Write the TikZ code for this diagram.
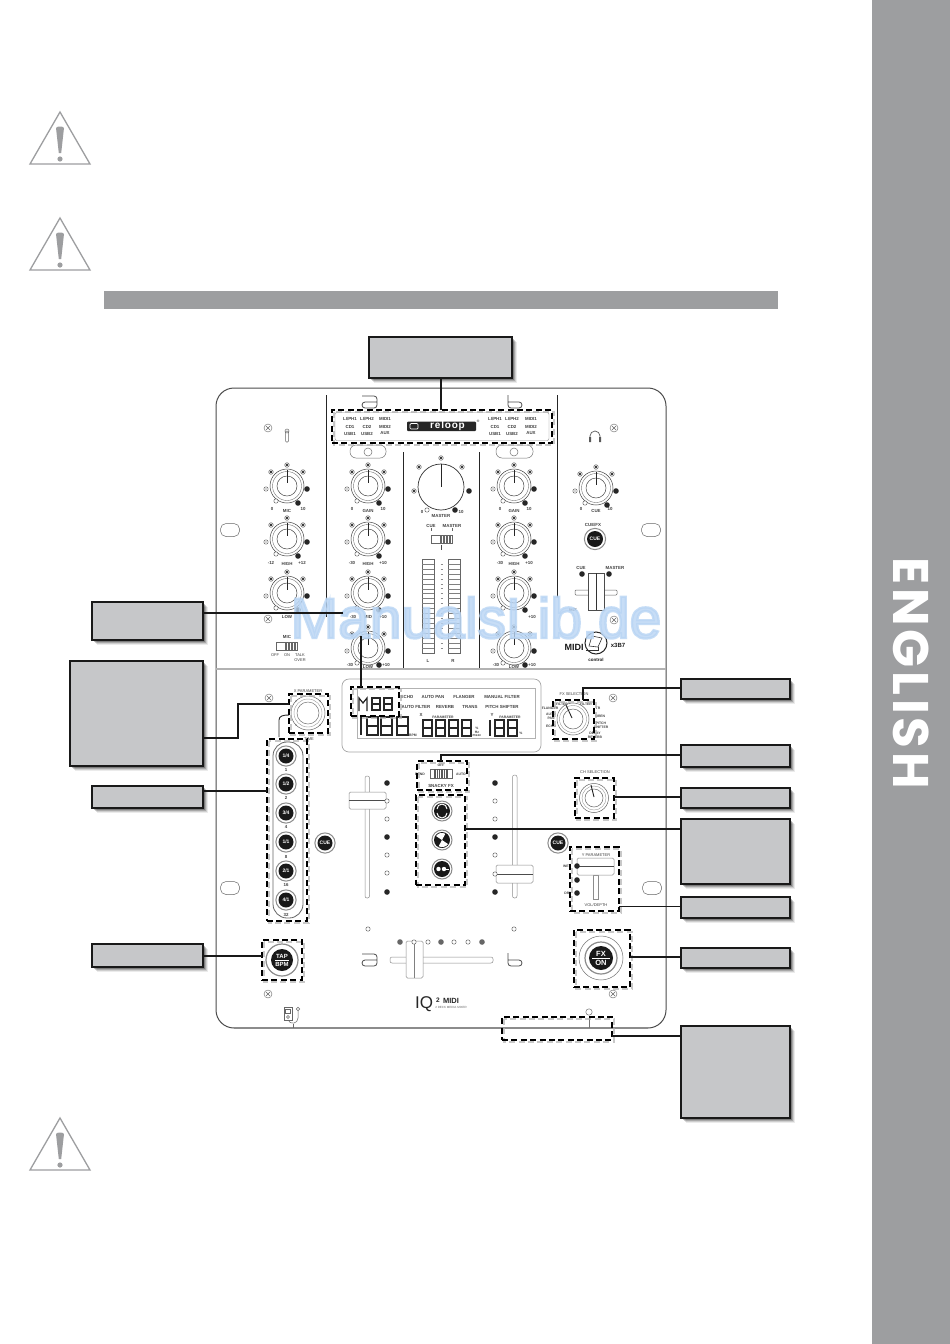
\documentclass[tikz,border=0pt]{standalone}
\usepackage{fontspec}
\setmainfont{Liberation Sans}
\newfontfamily\engfont[LetterSpace=7.6]{Poppins}
\newfontfamily\wmfont[FakeBold=4]{Liberation Sans}
\newfontfamily\logofont[LetterSpace=8]{Liberation Sans}
\definecolor{barg}{HTML}{9D9EA0}
\definecolor{boxg}{HTML}{C6C7C9}
\definecolor{wmark}{HTML}{B9D5F4}
\newcounter{tc}
\newcommand\tx[4][]{\stepcounter{tc}\node[lab,#1] (t\arabic{tc}) at (#2,#3) {#4};}
% callout box with soft shadow
\newcommand\cbox[5]{%
  \foreach \s/\o in {5/.08,4/.12,3/.18,2/.25}{\fill[black,opacity=\o] (#2+\s,#3+\s) rectangle (#4+\s,#5+\s);}
  \pgfmathsetmacro\cx{(#2+#4)/2}\pgfmathsetmacro\cy{(#3+#5)/2}
  \pgfmathsetmacro\cw{#4-#2}\pgfmathsetmacro\ch{#5-#3}
  \node[callout,minimum width=\cw pt,minimum height=\ch pt] (#1) at (\cx,\cy) {};}
% dashed frame with soft shadow
\newcommand\dbox[5]{%
  \draw[dashshadow] (#2+2,#3+2) rectangle (#4+2,#5+2);
  \pgfmathsetmacro\cx{(#2+#4)/2}\pgfmathsetmacro\cy{(#3+#5)/2}
  \pgfmathsetmacro\cw{#4-#2}\pgfmathsetmacro\ch{#5-#3}
  \node[dashbox,minimum width=\cw pt,minimum height=\ch pt] (#1) at (\cx,\cy) {};}
\newcommand\ledd[2]{\fill[white] (#1,#2) circle (2.3);\draw[ring] (#1,#2) circle (2.3);\fill[black!85] (#1,#2) circle (1.3);}
\newcommand\ledo[2]{\draw[ring,fill=white] (#1,#2) circle (2.2);}
\newcommand\ledp[2]{\draw[ring,fill=white] (#1,#2) circle (2.2);\fill[black!70] (#1,#2) circle (.6);}
\newcommand\ledf[2]{\fill[black!85] (#1,#2) circle (2.8);}
\newcommand\knob[2]{\begin{scope}[shift={(#1,#2)}]
  \draw[black!75,line width=.5] (0,0) circle (17);
  \draw[black!55,line width=.4] (0,0) circle (14.5);
  \draw[black!70,line width=.5] (0,0) circle (10);
  \draw[black!85,line width=.9] (0,-16) -- (0,-3);
  \ledd{0}{-21}\ledd{-16}{-14}\ledd{16}{-14}\ledp{-21}{3}\ledo{-11}{15}\ledf{20}{3}\ledf{11}{17}
\end{scope}}
\newcommand\btn[4]{\begin{scope}[shift={(#1,#2)}]
  \draw[black!45,line width=1,fill=white] (0,0) circle (#3+2.6);
  \fill[black!90] (0,0) circle (#3);
  \end{scope}
  \tx[btntxt]{#1}{#2}{#4}}
\newcommand\screw[2]{\begin{scope}[shift={(#1,#2)}]
  \draw[black!60,line width=.4] (0,0) circle (4);
  \draw[black!60,line width=.4] (-2,-2) -- (2,2) (-2,2) -- (2,-2);
\end{scope}}
\newcommand\hole[2]{\draw[black!60,line width=.5,rounded corners=5.5] (#1-9.5,#2-6.5) rectangle (#1+9.5,#2+6.5);}
\newcommand\warn[2]{\begin{scope}[shift={(#1,#2)}]
  \draw[barg,line width=1.3,line join=miter] (0,0) -- (-30,52) -- (30,52) -- cycle;
  \fill[barg] (-4,16) .. controls (-4,14) and (4,14) .. (4,16) -- (1.2,41) -- (-1.2,41) -- cycle;
  \fill[barg] (0,47) circle (2.6);
\end{scope}}
\newcommand\alogo[2]{\begin{scope}[shift={(#1,#2)}]
  \draw[black!70,line width=.8,rounded corners=3] (1,1) -- (16,1) -- (16,13) -- (1,13) -- (1,7) -- (16,7);
\end{scope}}
\newcommand\blogo[2]{\begin{scope}[shift={(#1,#2)}]
  \draw[black!70,line width=.8,rounded corners=3] (1,0) -- (1,13) -- (15,13) -- (15,7) -- (1,7);
\end{scope}}
\newcommand\segd[4]{\draw[seg] (#1,#2) rectangle (#1+#3,#2+#4) (#1,#2+#4/2) -- (#1+#3,#2+#4/2);}
\newcommand\segone[3]{\draw[seg] (#1,#2) -- (#1,#2+#3);}
\begin{document}
\begin{tikzpicture}[x=1pt,y=-1pt,
  lab/.style={font=\fontsize{4.4}{5}\selectfont\bfseries,inner sep=0pt,text=black!75,align=center},
  tiny/.style={font=\fontsize{3.4}{4}\selectfont\bfseries},
  btntxt/.style={font=\fontsize{5}{5}\selectfont\bfseries,text=white},
  callout/.style={draw=black!90,fill=boxg,line width=2pt,inner sep=0pt,outer sep=0pt},
  dashbox/.style={draw=black,line width=2pt,dash pattern=on 6pt off 3.4pt,inner sep=0pt,outer sep=0pt},
  dashshadow/.style={draw=black!30,line width=2.6pt,dash pattern=on 6pt off 3.4pt,opacity=.7},
  conn/.style={draw=black!90,line width=2pt},
  ring/.style={draw=black!65,line width=.45pt},
  seg/.style={draw=black!85,line width=1.5pt},
  thinl/.style={draw=black!45,line width=.5pt},
  darkl/.style={draw=black!85,line width=.9pt}]
\useasboundingbox (0,0) rectangle (950,1344);
\fill[white] (0,0) rectangle (950,1344);
% page furniture
\fill[barg] (872,0) rectangle (950,1344);
\fill[barg] (104,291) rectangle (778,309);
\node[rotate=-90,text=white,font=\fontsize{50}{50}\selectfont\engfont\bfseries,inner sep=0pt] (english) at (911,673) {ENGLISH};
\warn{60}{112}\warn{60}{218}\warn{60}{1118}
% mixer body
\draw[black!70,line width=1pt,rounded corners=18] (216,388) rectangle (666,1028);
\draw[black!45,line width=1.6pt] (234,1028) -- (648,1028);
\draw[black!30,line width=1.2pt] (216,669) -- (666,669);
\draw[darkl] (326,395) -- (326,617);
\draw[darkl] (557,395) -- (557,598);
\draw[darkl] (403,452) -- (403,668);
\draw[darkl] (479,452) -- (479,668);
% a / b top, inputs
\alogo{361}{395}\blogo{507}{395}
\draw[black!55,line width=.5,rounded corners=6] (350,445) rectangle (386,458);
\draw[black!55,line width=.5] (368,452) circle (4);
\draw[black!55,line width=.5,rounded corners=6] (496,445) rectangle (533,458);
\draw[black!55,line width=.5] (514,452) circle (4);
\draw[black!45,line width=.4,rounded corners=2] (335,412.5) rectangle (549,440.5);
\tx{350}{419}{LI/PH1}\tx{367}{419}{LI/PH2}\tx{385}{419}{MIDI1}
\tx{350}{426.5}{CD1}\tx{367}{426.5}{CD2}\tx{385}{426.5}{MIDI2}
\tx{350}{433.5}{USB1}\tx{367}{433.5}{USB2}\tx{385}{433.5}{AUX}
\tx{495}{419}{LI/PH1}\tx{512}{419}{LI/PH2}\tx{531}{419}{MIDI1}
\tx{495}{426.5}{CD1}\tx{512}{426.5}{CD2}\tx{531}{426.5}{MIDI2}
\tx{495}{433.5}{USB1}\tx{512}{433.5}{USB2}\tx{531}{433.5}{AUX}
\fill[black!85,rounded corners=1] (407,421.5) rectangle (476,431);
\draw[white,line width=.7,rounded corners=1] (410,423.5) rectangle (418,429);
\tx[font=\fontsize{10}{10}\selectfont\logofont\bfseries,text=white]{447.5}{426.2}{reloop}
\tx[tiny]{478}{421}{®}
% screws, holes, icons
\screw{268}{428}\screw{614}{428}\screw{268}{619}\screw{614}{620}
\screw{269}{698}\screw{613}{698}\screw{613}{994}\screw{268}{994}
\hole{230}{530}\hole{651}{530}\hole{230}{888}\hole{652}{888}
\draw[black!60,line width=.5,rounded corners=1] (285.5,431) rectangle (288.5,442);
\draw[black!60,line width=.5] (287,431) circle (2);
\draw[black!65,line width=.7] (590,441) -- (590,436) arc[start angle=180,end angle=360,radius=5] -- (600,441);
\fill[black!65] (589,437) rectangle (591,442) (599,437) rectangle (601,442);
% knobs
\knob{287}{486}\knob{287}{539}\knob{287}{593}
\knob{368}{486}\knob{368}{539}\knob{368}{593}\knob{368}{648}
\knob{514}{486}\knob{514}{539}\knob{514}{593}\knob{514}{648}
\knob{596}{488}
\tx{272}{509}{0}\tx{287}{511}{MIC}\tx{303}{509}{10}
\tx{271}{563}{-12}\tx{287}{564}{HIGH}\tx{302}{563}{+12}
\tx{287}{617}{LOW}
\tx{352}{509}{0}\tx{368}{511}{GAIN}\tx{383}{509}{10}
\tx{352}{563}{-30}\tx{368}{564}{HIGH}\tx{383}{563}{+10}
\tx{353}{617}{-30}\tx{368}{617}{MID}\tx{383}{617}{+10}
\tx{350}{665}{-30}\tx{368}{667}{LOW}\tx{386}{665}{+10}
\tx{500}{509}{0}\tx{514}{511}{GAIN}\tx{529}{509}{10}
\tx{500}{563}{-30}\tx{514}{564}{HIGH}\tx{529}{563}{+10}
\tx{532}{617}{+10}
\tx{496}{665}{-30}\tx{514}{667}{LOW}\tx{532}{665}{+10}
\tx{581}{509}{0}\tx{596}{511}{CUE}\tx{610}{509}{10}
% master
\draw[black!80,line width=.7] (441,487) circle (23);
\draw[black!85,line width=.9] (441,464) -- (441,487);
\ledd{441}{458}\ledd{462}{467}\ledd{419}{467}\ledd{414}{491}\ledf{469}{491}\ledf{455}{510}\ledo{427}{510}
\tx{422}{512}{0}\tx{461}{512}{10}\tx{441}{516}{MASTER}
\tx{431}{526}{CUE}\tx{452}{526}{MASTER}
\draw[black!60,line width=.4] (431,528) -- (431,531) (452,528) -- (452,531);
\draw[black!60,line width=.6,fill=white] (431,535) rectangle (452,543);
\foreach \i in {0,...,7}{\draw[black!60,line width=.5] (440+\i*1.5,535) -- (440+\i*1.5,543);}
\draw[black!70,line width=.6] (441,545) -- (441,550);
% VU meters
\draw[black!60,line width=.5] (422,559) rectangle (434,653);
\draw[black!60,line width=.5] (448,559) rectangle (460,653);
\foreach \i in {1,...,18}{
  \draw[black!50,line width=.4] (422,559+\i*4.95) -- (434,559+\i*4.95);
  \draw[black!50,line width=.4] (448,559+\i*4.95) -- (460,559+\i*4.95);
  \draw[black!45,line width=.5] (440.5,559+\i*4.95) -- (442.5,559+\i*4.95);}
\tx{428}{661}{L}\tx{453}{661}{R}
% mic switch
\tx{287}{637}{MIC}
\draw[black!60,line width=.6,fill=white] (276,642) rectangle (297,650);
\foreach \i in {0,...,7}{\draw[black!60,line width=.5] (285+\i*1.5,642) -- (285+\i*1.5,650);}
\tx[font=\fontsize{4}{5}\selectfont]{275}{655}{OFF}\tx[font=\fontsize{4}{5}\selectfont]{287}{655}{ON}\tx[font=\fontsize{4}{5}\selectfont]{300}{657.5}{TALK\\OVER}
% cue fx
\tx{593}{525}{CUE/FX}
\btn{595}{539}{8}{CUE}
\tx{581}{568}{CUE}\tx{615}{568}{MASTER}
\ledf{582}{574}\ledf{609}{574}
\draw[black!60,line width=.5,rounded corners=1] (575,590) rectangle (617,595);
\draw[black!70,line width=.5,fill=white] (588,573) rectangle (604,610);
\draw[black!80,line width=.7] (596,573) -- (596,610);
\tx{573}{610}{MIX}
% midi logo
\tx[font=\fontsize{9}{9}\selectfont\bfseries,text=black!90]{574}{647}{MIDI}
\draw[black!85,line width=1] (596,643) circle (11);
\draw[black!80,line width=.6,fill=white] (592,636) -- (602,638) -- (598,647) -- (589,646) -- cycle;
\draw[black!80,line width=.6] (586,650) -- (598,650) -- (598,647);
\tx[font=\fontsize{6}{6}\selectfont\bfseries,text=black!90]{618}{645.5}{x3B7}
\tx[font=\fontsize{4.5}{5}\selectfont\bfseries,text=black!90]{596}{660}{control}
% display
\draw[black!35,line width=.7,rounded corners=7] (342,679) rectangle (541,752);
\draw[black!30,line width=.4] (357,688) rectangle (535,738);
\tx{407}{697}{ECHO}\tx{433}{697}{AUTO PAN}\tx{464}{697}{FLANGER}\tx{502}{697}{MANUAL FILTER}
\tx{416}{707}{AUTO FILTER}\tx{445}{707}{REVERB}\tx{470}{707}{TRANS}\tx{502}{707}{PITCH SHIFTER}
\draw[seg,line width=1.2pt] (359,711) -- (359,698) -- (363,703) -- (367,698) -- (367,711);
\segd{372}{698}{8}{12}\segd{384}{698}{8}{12}
\segone{361}{717}{18}\segd{367}{717}{11}{18}\segd{381}{717}{11}{18}\segd{397}{717}{11}{18}
\tx[tiny]{413}{735}{BPM}
\segd{423}{720}{9}{16}\segd{436}{720}{9}{16}\segd{449}{720}{9}{16}\segd{462}{720}{9}{16}
\tx{421}{715}{X}\tx[tiny]{443}{717}{PARAMETER}
\tx{492}{715}{Y}\tx[tiny]{510}{717}{PARAMETER}
\tx[tiny]{477}{728}{\%}\tx[tiny]{477}{732}{Hz}\tx[tiny]{477}{736}{msec}
\segone{490}{720}{16}\segd{495}{720}{9}{16}\segd{508}{720}{9}{16}
\tx[tiny]{521}{733}{\%}
% X parameter
\tx[font=\fontsize{4}{5}\selectfont]{308}{691}{X PARAMETER}
\draw[black!60,line width=.5] (308,713) circle (17);
\draw[black!40,line width=.4] (308,713) circle (14);
\draw[black!55,line width=.5] (308,713) circle (11);
\fill[black!70] (296,701) circle (.7) (320,701) circle (.7) (296,725) circle (.7) (320,725) circle (.7);
\tx[font=\fontsize{4}{5}\selectfont]{309}{739}{TIME}
% time column
\draw[black!60,line width=.8,rounded corners=14] (273,742) rectangle (303,918);
\draw[darkl] (279,737) -- (279,720) .. controls (279,716) and (283,715) .. (289,715);
\btn{286}{756}{7.5}{1/4}\btn{286}{784}{7.5}{1/2}\btn{286}{813}{7.5}{3/4}
\btn{286}{842}{7.5}{1/1}\btn{286}{871}{7.5}{2/1}\btn{286}{900}{7.5}{4/1}
\tx{286}{770}{1}\tx{286}{798}{2}\tx{286}{827}{4}\tx{286}{857}{8}\tx{286}{885}{16}\tx{286}{915}{32}
\btn{325}{843}{7.5}{CUE}\btn{558}{843}{7.5}{CUE}
% channel faders
\draw[black!45,line width=.5,rounded corners=2] (365,776) rectangle (369.5,898);
\draw[black!45,line width=.5,fill=white,rounded corners=1.5] (349,792) rectangle (386,809);
\draw[black!70,line width=.8] (349,800.5) -- (386,800.5);
\foreach \y in {783,837,892}{\ledf{387}{\y}}
\foreach \y in {801,819,855,873}{\ledo{387}{\y}}
\draw[black!45,line width=.5,rounded corners=2] (512.5,775) rectangle (517,898);
\draw[black!45,line width=.5,fill=white,rounded corners=1.5] (496,865) rectangle (533,883);
\draw[black!70,line width=.8] (496,874) -- (533,874);
\foreach \y in {783,837,892}{\ledf{495}{\y}}
\foreach \y in {801,819,855,874}{\ledo{495}{\y}}
% fx switch
\tx[tiny]{441}{765}{OFF}\tx[tiny]{420}{774}{BEND}\tx[tiny]{461}{774}{AUTO}
\draw[black!60,line width=.6,fill=white] (430,769) rectangle (452,778);
\foreach \i in {0,...,8}{\draw[black!65,line width=.6] (434+\i*1.7,769) -- (434+\i*1.7,778);}
\tx{441}{786}{SNACKY FX}
% snacky buttons
\foreach \y in {811,840,869}{\draw[black!45,line width=1,fill=white] (442,\y) circle (10);\fill[black!90] (442,\y) circle (8);}
\draw[white,line width=1] (437,809) arc[start angle=180,end angle=360,radius=5];
\draw[white,line width=1] (447,813) arc[start angle=0,end angle=180,radius=5];
\fill[white] (442,840) -- (436,836) arc[start angle=214,end angle=300,radius=7] -- cycle;
\fill[white] (442,840) -- (448,844) arc[start angle=34,end angle=120,radius=7] -- cycle;
\fill[white] (438.5,869) circle (2.2) (444,869) circle (2.2);
\draw[white,line width=.8] (444,869) -- (449,869);
% fx selection
\tx[font=\fontsize{4}{5}\selectfont]{574}{694}{FX SELECTION}
\draw[black!60,line width=.5] (573,719) circle (16);
\draw[black!40,line width=.4] (573,719) circle (13.5);
\draw[black!60,line width=.5] (573,719) circle (10);
\draw[black!85,line width=.9] (566,705) -- (572,718);
\tx[tiny]{562}{704}{FILTER}\tx[tiny]{586}{704}{FILTER}
\tx[tiny]{550}{708}{FLANGER}\tx[tiny]{551}{716}{AUTO\\PAN}\tx[tiny]{551}{726}{ECHO}
\tx[tiny]{598}{708}{TR}\tx[tiny]{600}{716}{SIREN}\tx[tiny]{601}{725}{PITCH\\SHIFTER}\tx[tiny]{595}{735.5}{DELAY\\REVERB}
% ch selection
\tx[font=\fontsize{4}{5}\selectfont]{595}{772}{CH SELECTION}
\draw[black!60,line width=.5] (594,798) circle (14.5);
\draw[black!40,line width=.4] (594,798) circle (12);
\draw[black!60,line width=.5] (594,798) circle (9);
\draw[black!85,line width=.9] (591,785) -- (594,797);
% y parameter
\tx[font=\fontsize{4}{5}\selectfont]{596}{855}{Y PARAMETER}
\draw[black!45,line width=.5] (593.5,875) rectangle (598.5,899);
\draw[black!45,line width=.5,fill=white,rounded corners=1.5] (577,858) rectangle (614,875);
\draw[black!70,line width=.8] (577,866) -- (614,866);
\ledf{577}{866}\ledf{577}{880}\ledf{577}{893}
\tx[tiny]{567}{866}{WET}\tx[tiny]{568}{893}{DRY}
\tx[font=\fontsize{4}{5}\selectfont]{596}{905}{VOL/DEPTH}
% fx on
\draw[black!55,line width=.5] (601,958) circle (22);
\draw[black!45,line width=1.2] (601,958) circle (16);
\fill[black!90] (601,958) circle (12);
\draw[white,line width=.5] (592,958) -- (610,958);
\tx[font=\fontsize{7.5}{8}\selectfont\bfseries,text=white]{601}{953.5}{FX}
\tx[font=\fontsize{7.5}{8}\selectfont\bfseries,text=white]{601}{962.5}{ON}
% tap bpm
\draw[black!45,line width=1.2] (282,960) circle (16);
\fill[black!90] (282,960) circle (11);
\draw[white,line width=.5] (275,960) -- (289,960);
\tx[font=\fontsize{6}{6}\selectfont\bfseries,text=white]{282}{956.5}{TAP}
\tx[font=\fontsize{6}{6}\selectfont\bfseries,text=white]{282}{964}{BPM}
% crossfader
\ledo{368}{929}\ledo{514}{929}
\draw[black!45,line width=.5,rounded corners=2] (390,957) rectangle (493,963);
\foreach \x in {400,441,482}{\fill[black!60] (\x,942) circle (2.8);}
\foreach \x in {428,454,468}{\ledo{\x}{942}}
\draw[black!45,line width=.5,fill=white,rounded corners=1.5] (406,941) rectangle (423,978);
\draw[black!50,line width=.7] (414.5,941) -- (414.5,978);
\ledo{414}{942}
\alogo{361}{953}\blogo{507}{953}
% IQ2 MIDI logo
\tx[font=\fontsize{17}{17}\selectfont,text=black!85]{424}{1004.5}{IQ}
\tx[font=\fontsize{6.5}{7}\selectfont\bfseries,text=black!85]{438}{1000.5}{2}
\tx[font=\fontsize{7.5}{7}\selectfont\bfseries,text=black!85]{451}{1000.5}{MIDI}
\tx[font=\fontsize{3}{4}\selectfont,text=black!60]{451}{1007}{2 DECK MEDIA MIXER}
% ipod & plugs
\draw[black!60,line width=.5] (284,1007) rectangle (292,1020);
\draw[black!60,line width=.4] (285.5,1009) rectangle (290.5,1013);
\draw[black!60,line width=.4] (288,1017) circle (1.5);
\draw[black!60,line width=.5] (298,1009) circle (1.8);
\draw[black!60,line width=.5] (298,1011) -- (298,1018) .. controls (298,1024) and (290,1025) .. (288,1020);
\draw[black!60,line width=.5] (293,1024) -- (293,1028);
\draw[black!55,line width=.5] (589,1012) circle (3.2);
\draw[black!55,line width=.5] (589,1015.5) -- (589,1028);
% watermark
\node[text=wmark,opacity=.8,font=\fontsize{57}{57}\selectfont\wmfont,anchor=base,inner sep=0pt] (wm) at (476,638) {ManualsLib.de};
% dashed frames
\dbox{fsrc}{332}{410}{552}{443}
\dbox{fm}{351}{687}{399}{716}
\dbox{fx}{289}{694}{328}{733}
\dbox{ftime}{267}{739}{307}{921}
\dbox{fsw}{417}{761}{467}{790}
\dbox{fbtn}{416}{795}{465}{885}
\dbox{fsel}{553}{700}{594}{739}
\dbox{fch}{575}{778}{614}{818}
\dbox{fy}{570}{847}{619}{911}
\dbox{fon}{574}{930}{630}{987}
\dbox{fbot}{502}{1017}{612}{1040}
\dbox{ftap}{262}{940}{302}{980}
% callouts
\cbox{ctop}{369}{337}{512}{378}
\cbox{cl1}{92}{602}{203}{640}
\cbox{cl2}{70}{661}{203}{766}
\cbox{cl3}{92}{786}{203}{808}
\cbox{cl4}{92}{944}{203}{967}
\cbox{cr1}{681}{679}{790}{699}
\cbox{cr2}{681}{745}{790}{767}
\cbox{cr3}{681}{788}{790}{808}
\cbox{cr4}{681}{819}{790}{884}
\cbox{cr5}{681}{897}{790}{918}
\cbox{cr6}{681}{948}{790}{968}
\cbox{cr7}{681}{1026}{790}{1118}
% connectors
\coordinate (kl) at (343,613);
\coordinate (kv) at (361,636);
\draw[conn] (ctop.south) -- (ctop.south |- fsrc.north);
\draw[conn] ([yshift=8pt]cl1.east) -- (kl);
\draw[conn] (kv) -- (kv |- fm.north);
\draw[conn] (cl2.east |- 0,738) -- (238,738) -- (238,704) -- (fx.west |- 0,704);
\draw[conn] (cl3.east |- 0,791) -- (ftime.west |- 0,791);
\draw[conn] (cl4.east) -- (ftap.west |- cl4.east);
\draw[conn] (cr1.west |- 0,688) -- (583,688) -- (583,700);
\draw[conn] (cr2.west |- 0,755) -- (441,755) -- (441,761);
\draw[conn] (cr3.west |- 0,797) -- (fch.east |- 0,797);
\draw[conn] (cr4.west |- 0,829) -- (fbtn.east |- 0,829);
\draw[conn,line width=1pt] (cr5.west |- 0,906) -- (fy.east |- 0,906);
\draw[conn] (cr6.west |- 0,957) -- (fon.east |- 0,957);
\draw[conn] (cr7.west |- 0,1036) -- (fbot.east |- 0,1036);
\end{tikzpicture}
\end{document}
